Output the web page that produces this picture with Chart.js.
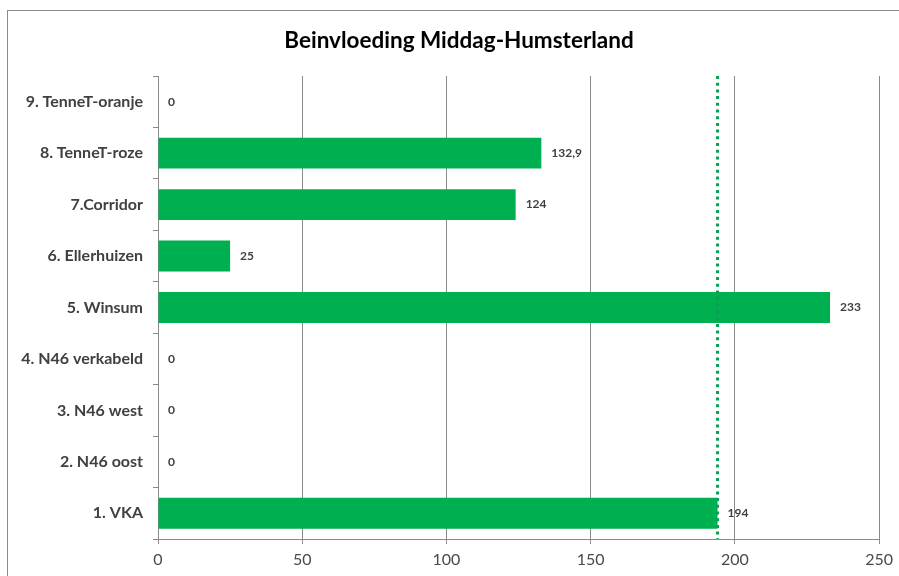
<!DOCTYPE html>
<html>
<head>
<meta charset="utf-8">
<script src="https://cdn.jsdelivr.net/npm/chart.js@4/dist/chart.umd.min.js"></script>
<style>
  html, body { margin: 0; padding: 0; background: #ffffff; }
  #wrap { position: relative; width: 899px; height: 576px; overflow: hidden; }
  #frame { position: absolute; left: 7px; top: 10px; width: 960px; height: 640px;
           border: 1.5px solid #8c8c8c; box-sizing: border-box; }
  canvas { position: absolute; left: 0; top: 0; }
</style>
</head>
<body>
<div id="wrap">
  <div id="frame"></div>
  <canvas id="c" width="899" height="576"></canvas>
</div>
<script>
// Categories, top to bottom
const categories = [
  '9. TenneT-oranje',
  '8. TenneT-roze',
  '7.Corridor',
  '6. Ellerhuizen',
  '5. Winsum',
  '4. N46 verkabeld',
  '3. N46 west',
  '2. N46 oost',
  '1. VKA'
];
// Influence per alternative
const values = [0, 132.9, 124, 25, 233, 0, 0, 0, 194];
// Reference level (VKA) drawn as dotted vertical line
const referenceValue = 194;
const xTicks = [0, 50, 100, 150, 200, 250];
const chartTitle = 'Beinvloeding Middag-Humsterland';

const FONT = 'Lato, "Open Sans", sans-serif';
const fmt = v => String(v).replace('.', ',');

// Title centred on the whole frame
const frameTitle = {
  id: 'frameTitle',
  afterDraw(chart) {
    const ctx = chart.ctx;
    ctx.save();
    ctx.font = 'bold 22.5px ' + FONT;
    ctx.fillStyle = '#000000';
    ctx.textAlign = 'center';
    ctx.textBaseline = 'middle';
    ctx.fillText(chartTitle, 459, 41);
    ctx.restore();
  }
};

const valueLabels = {
  id: 'valueLabels',
  afterDatasetsDraw(chart) {
    const ctx = chart.ctx;
    const meta = chart.getDatasetMeta(0);
    ctx.save();
    ctx.font = 'bold 12px ' + FONT;
    ctx.fillStyle = '#404040';
    ctx.textAlign = 'left';
    ctx.textBaseline = 'middle';
    meta.data.forEach((bar, i) => {
      ctx.fillText(fmt(values[i]), bar.x + 10, bar.y);
    });
    ctx.restore();
  }
};

const referenceLine = {
  id: 'referenceLine',
  afterDatasetsDraw(chart) {
    const { ctx, chartArea, scales } = chart;
    const x = scales.x.getPixelForValue(referenceValue);
    ctx.save();
    ctx.strokeStyle = '#0a9e55';
    ctx.lineWidth = 3;
    ctx.setLineDash([3, 3.7]);
    ctx.beginPath();
    ctx.moveTo(x, chartArea.top);
    ctx.lineTo(x, chartArea.bottom);
    ctx.stroke();
    ctx.restore();
  }
};

new Chart(document.getElementById('c'), {
  type: 'bar',
  data: {
    labels: categories,
    datasets: [{
      data: values,
      backgroundColor: '#00b050',
      categoryPercentage: 1.0,
      barPercentage: 0.6
    }]
  },
  options: {
    indexAxis: 'y',
    responsive: false,
    animation: false,
    layout: { padding: { left: 10, right: 19, top: 76, bottom: 0 } },
    plugins: {
      legend: { display: false },
      tooltip: { enabled: false },
      title: { display: false }
    },
    scales: {
      x: {
        min: 0, max: 250,
        afterBuildTicks(scale) { scale.ticks = xTicks.map(v => ({ value: v })); },
        afterFit(scale) { scale.height = 37; },
        grid: { color: '#8a8a8a', lineWidth: 1, tickLength: 5, tickColor: '#8a8a8a' },
        border: { color: '#8a8a8a' },
        ticks: { color: '#4a4a4a', font: { family: FONT, size: 16 }, padding: 6 }
      },
      y: {
        afterFit(scale) { scale.width = 148; },
        grid: { drawOnChartArea: false, offset: true, tickLength: 5, tickColor: '#8a8a8a' },
        border: { color: '#8a8a8a' },
        ticks: { color: '#404040', font: { family: FONT, size: 16, weight: 'bold' }, padding: 10 }
      }
    }
  },
  plugins: [valueLabels, referenceLine, frameTitle]
});
</script>
</body>
</html>
